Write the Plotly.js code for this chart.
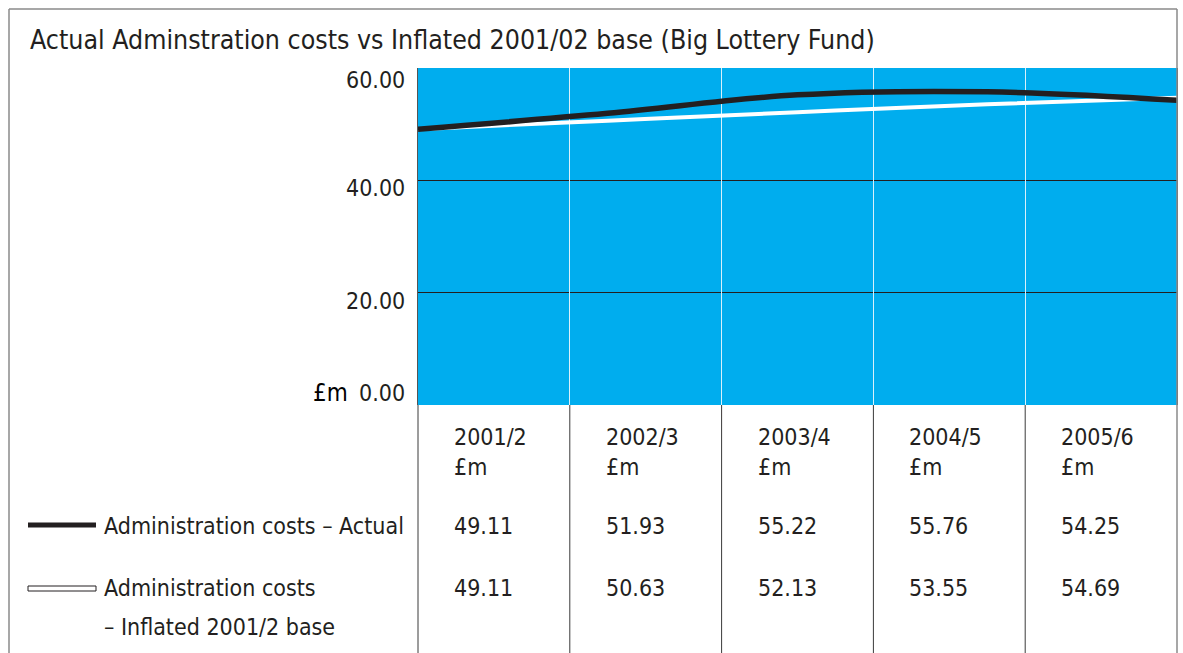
<!DOCTYPE html>
<html>
<head>
<meta charset="utf-8">
<script src="https://cdn.plot.ly/plotly-3.0.1.min.js"></script>
<style>html,body{margin:0;padding:0;background:#fff;}#chart{width:1183px;height:653px;}</style>
</head>
<body>
<div id="chart"></div>
<script>
// ---- data ----
const years = ['2001/2', '2002/3', '2003/4', '2004/5', '2005/6'];
const unitLabel = '£m';
const actual = [49.11, 51.93, 55.22, 55.76, 54.25];
const inflated = [49.11, 50.63, 52.13, 53.55, 54.69];
const yTicks = [0, 20, 40, 60];
const seriesNames = ['Administration costs – Actual', 'Administration costs', '– Inflated 2001/2 base'];
const titleText = 'Actual Adminstration costs vs Inflated 2001/02 base (Big Lottery Fund)';

// ---- layout helpers ----
const W = 1183, H = 653;
const M = {l: 418, r: 6, t: 68, b: 248};
const PW = W - M.l - M.r, PH = H - M.t - M.b;
const px = v => (v - M.l) / PW;        // pixel x -> paper
const py = v => (H - M.b - v) / PH;     // pixel y -> paper
const FONT = '"DejaVu Sans Condensed", "Liberation Sans Narrow", Arial, sans-serif';
const TXT = '#231f20';
const FS = 23;
const idx = years.map((_, i) => i);

const traces = [
  {x: [0, years.length], y: [null, null], xaxis: 'x2', type: 'scatter', mode: 'lines', hoverinfo: 'skip', showlegend: false},
  {x: idx, y: inflated, type: 'scatter', mode: 'lines', line: {color: '#ffffff', width: 4, shape: 'spline', smoothing: 1}, hoverinfo: 'skip', showlegend: false},
  {x: idx, y: actual, type: 'scatter', mode: 'lines', line: {color: TXT, width: 5.5, shape: 'spline', smoothing: 1}, hoverinfo: 'skip', showlegend: false}
];

const annotations = [];
// y tick labels
const tickShift = {0: 12, 20: -8, 40: -8, 60: -12};
yTicks.forEach(t => {
  annotations.push({xref: 'paper', yref: 'y', x: px(407), y: t, xanchor: 'right', yanchor: 'middle',
    yshift: tickShift[t], text: t.toFixed(2), showarrow: false, font: {family: FONT, size: FS, color: TXT}});
});
annotations.push({xref: 'paper', yref: 'y', x: px(350), y: 0, xanchor: 'right', yanchor: 'middle', yshift: 12,
  text: unitLabel, showarrow: false, font: {family: FONT, size: 24, color: '#000'}});

// table
const colW = 1 / years.length;
years.forEach((yr, i) => {
  const x = i * colW + 34 / PW;
  annotations.push({xref: 'paper', yref: 'paper', x: x, y: py(437), xanchor: 'left', yanchor: 'middle', text: yr, showarrow: false, font: {family: FONT, size: FS, color: TXT}});
  annotations.push({xref: 'paper', yref: 'paper', x: x, y: py(467), xanchor: 'left', yanchor: 'middle', text: unitLabel, showarrow: false, font: {family: FONT, size: FS, color: TXT}});
  annotations.push({xref: 'paper', yref: 'paper', x: x, y: py(526), xanchor: 'left', yanchor: 'middle', text: actual[i].toFixed(2), showarrow: false, font: {family: FONT, size: FS, color: TXT}});
  annotations.push({xref: 'paper', yref: 'paper', x: x, y: py(588), xanchor: 'left', yanchor: 'middle', text: inflated[i].toFixed(2), showarrow: false, font: {family: FONT, size: FS, color: TXT}});
});
// legend texts
annotations.push({xref: 'paper', yref: 'paper', x: px(102), y: py(526), xanchor: 'left', yanchor: 'middle', text: seriesNames[0], showarrow: false, font: {family: FONT, size: FS, color: TXT}});
annotations.push({xref: 'paper', yref: 'paper', x: px(102), y: py(588), xanchor: 'left', yanchor: 'middle', text: seriesNames[1], showarrow: false, font: {family: FONT, size: FS, color: TXT}});
annotations.push({xref: 'paper', yref: 'paper', x: px(102), y: py(627), xanchor: 'left', yanchor: 'middle', text: seriesNames[2], showarrow: false, font: {family: FONT, size: FS, color: TXT}});

const shapes = [];
// outer frame
shapes.push({type: 'line', xref: 'paper', yref: 'paper', x0: px(9), x1: px(1177), y0: py(9), y1: py(9), line: {color: '#8a8a8a', width: 1.5}});
shapes.push({type: 'line', xref: 'paper', yref: 'paper', x0: px(9), x1: px(9), y0: py(9), y1: py(660), line: {color: '#8a8a8a', width: 1.5}});
shapes.push({type: 'line', xref: 'paper', yref: 'paper', x0: 1, x1: 1, y0: py(9), y1: py(660), line: {color: '#8a8a8a', width: 1.5}});
// table column lines
for (let k = 0; k < years.length; k++) {
  shapes.push({type: 'line', xref: 'paper', yref: 'paper', x0: k * colW, x1: k * colW, y0: 0, y1: py(660), line: {color: '#3a3a3a', width: 1}});
}
// legend samples
shapes.push({type: 'line', xref: 'paper', yref: 'paper', x0: px(28), x1: px(96), y0: py(525), y1: py(525), line: {color: TXT, width: 5}});
shapes.push({type: 'rect', xref: 'paper', yref: 'paper', x0: px(28), x1: px(96), y0: py(586), y1: py(591), fillcolor: '#ffffff', line: {color: TXT, width: 1}});

const layout = {
  width: W, height: H,
  margin: M,
  paper_bgcolor: '#ffffff',
  plot_bgcolor: '#00adee',
  showlegend: false,
  title: {text: titleText, xref: 'container', yref: 'container', x: 30 / W, xanchor: 'left', y: 1 - 40 / H, yanchor: 'middle',
    font: {family: FONT, size: 26.5, color: TXT}},
  xaxis: {range: [0, years.length - 1], showgrid: false, zeroline: false, showticklabels: false, ticks: '', fixedrange: true},
  xaxis2: {overlaying: 'x', range: [0, years.length], dtick: 1, tick0: 0, showgrid: true, gridcolor: '#d8f1fb', gridwidth: 1,
    zeroline: false, showticklabels: false, ticks: '', side: 'bottom'},
  yaxis: {range: [0, 60], tickvals: yTicks, showticklabels: false, ticks: '', showgrid: true, gridcolor: TXT, gridwidth: 1,
    zeroline: false, showline: true, mirror: true, linecolor: '#555555', linewidth: 1},
  annotations: annotations,
  shapes: shapes
};

Plotly.newPlot('chart', traces, layout, {displayModeBar: false, staticPlot: true});
</script>
</body>
</html>
